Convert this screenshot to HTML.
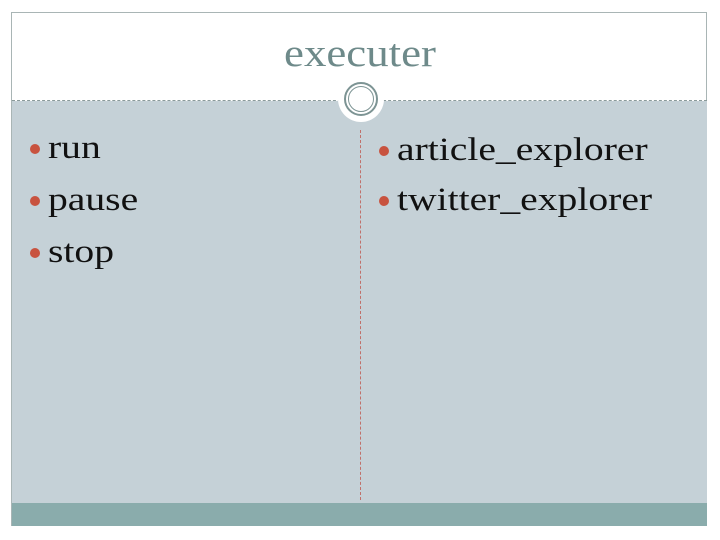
<!DOCTYPE html>
<html><head><style>
body{margin:0;width:720px;height:540px;background:#fff;position:relative;overflow:hidden;font-family:"Liberation Serif",serif}
.frame{position:absolute;left:11px;top:12px;width:696px;height:514px;border:1px solid #a9b5b5;box-sizing:border-box}
.panel{position:absolute;left:12px;top:101px;width:695px;height:402px;background:#c5d1d7}
.foot{position:absolute;left:12px;top:503px;width:695px;height:23px;background:#8aacac}
.dash{position:absolute;left:12px;top:100px;width:695px;border-top:1px dashed #8a9a9a}
.title{position:absolute;left:0;width:720px;top:31px;text-align:center;font-size:39px;color:#6e8a8a;transform:scaleX(1.15)}
.circ{position:absolute;left:338px;top:76px;width:46px;height:46px;border-radius:50%;background:#fff}
.ring{position:absolute;left:344px;top:82px;width:30px;height:30px;border-radius:50%;border:2px solid #7d9494;}
.ring2{position:absolute;left:348px;top:86px;width:24px;height:24px;border-radius:50%;border:1px solid #7d9494;}
.vd{position:absolute;left:360px;top:130px;height:370px;border-left:1px dashed #c0706a}
.item{position:absolute;font-size:33px;color:#111;transform:scaleX(1.2);transform-origin:left}
.dot{position:absolute;width:10px;height:10px;border-radius:50%;background:#c8533f}
</style></head><body>
<div class="frame"></div>
<div class="panel"></div>
<div class="foot"></div>
<div class="dash"></div>
<div class="title">executer</div>
<div class="circ"></div>
<div class="ring"></div>
<div class="ring2"></div>
<div class="vd"></div>
<div class="dot" style="left:30px;top:144px"></div><div class="item" style="left:48px;top:130px">run</div>
<div class="dot" style="left:30px;top:196px"></div><div class="item" style="left:48px;top:182px">pause</div>
<div class="dot" style="left:30px;top:248px"></div><div class="item" style="left:48px;top:234px">stop</div>
<div class="dot" style="left:379px;top:146px"></div><div class="item" style="left:397px;top:132px">article_explorer</div>
<div class="dot" style="left:379px;top:196px"></div><div class="item" style="left:397px;top:182px">twitter_explorer</div>
</body></html>
